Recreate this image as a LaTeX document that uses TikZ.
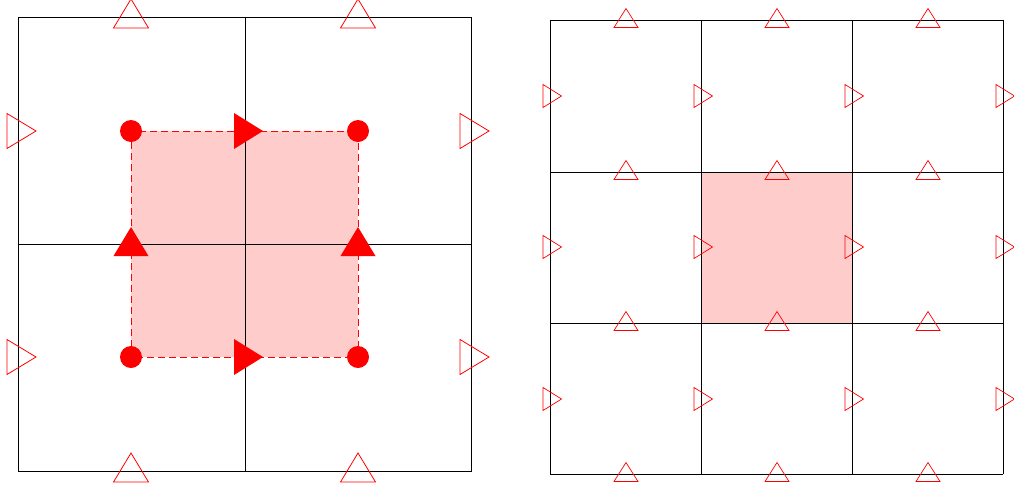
\documentclass[tikz,border=0pt]{standalone}
\begin{document}
\begin{tikzpicture}[x=1pt,y=-1pt,
  gridline/.style={black,line width=0.8pt},
  shade/.style={fill=red!20,draw=red,dashed,dash pattern=on 7pt off 4pt,line width=0.7pt},
  bigup/.pic={\draw[red,line width=0.8pt] (-17.5,11)--(17.5,11)--(0,-18)--cycle;},
  bigright/.pic={\draw[red,line width=0.8pt] (-11,-17.5)--(-11,17.5)--(18,0)--cycle;},
  fillup/.pic={\fill[red] (-17.5,12)--(17.5,12)--(0,-17)--cycle;},
  fillright/.pic={\fill[red] (-11,-18)--(-11,18)--(18,0)--cycle;},
  dot/.pic={\fill[red] (0,0) circle[radius=11];},
  smallup/.pic={\draw[red,line width=0.7pt] (-12,7.5)--(12,7.5)--(0,-11.5)--cycle;},
  smallright/.pic={\draw[red,line width=0.7pt] (-7,-11.5)--(-7,11.5)--(11.5,0)--cycle;}
]
\useasboundingbox (0,0) rectangle (1014,488);
% ---------- left figure ----------
\draw[shade] (131,131) rectangle (358,357);
\draw[gridline] (18,17) rectangle (471,471);
\draw[gridline] (245,17) -- (245,471);
\draw[gridline] (18,244) -- (471,244);
\foreach \x in {131,358}{
  \pic at (\x,17) {bigup};
  \pic at (\x,471) {bigup};
  \pic at (\x,244) {fillup};
  \pic at (\x,131) {dot};
  \pic at (\x,357) {dot};
}
\foreach \y in {131,357}{
  \pic at (18,\y) {bigright};
  \pic at (471,\y) {bigright};
  \pic at (245,\y) {fillright};
}
% ---------- right figure ----------
\draw[shade] (701,172) rectangle (852,323);
\foreach \x in {550,701,852,1003}{
  \draw[gridline] (\x,20) -- (\x,474);
}
\foreach \y in {20,172,323,474}{
  \draw[gridline] (550,\y) -- (1003,\y);
}
\foreach \x in {626,777,928}{
  \foreach \y in {20,172,323,474}{
    \pic at (\x,\y) {smallup};
  }
}
\foreach \x in {550,701,852,1003}{
  \foreach \y in {96,247,399}{
    \pic at (\x,\y) {smallright};
  }
}
\end{tikzpicture}
\end{document}
